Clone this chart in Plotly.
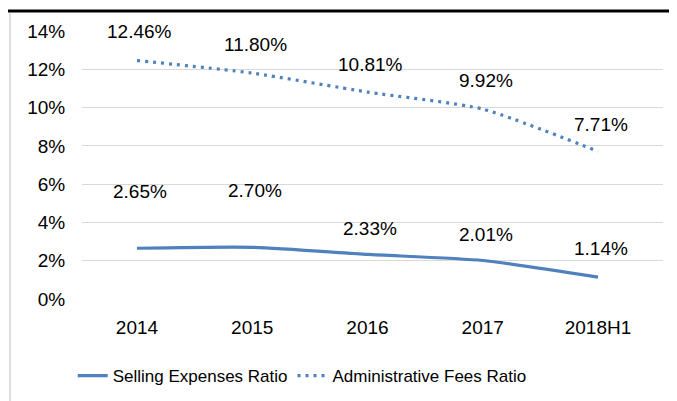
import plotly.graph_objects as go

categories = ["2014", "2015", "2016", "2017", "2018H1"]
selling = [2.65, 2.70, 2.33, 2.01, 1.14]
admin = [12.46, 11.80, 10.81, 9.92, 7.71]
selling_labels = ["2.65%", "2.70%", "2.33%", "2.01%", "1.14%"]
admin_labels = ["12.46%", "11.80%", "10.81%", "9.92%", "7.71%"]
y_ticks = [0, 2, 4, 6, 8, 10, 12, 14]
y_ticktext = ["0%", "2%", "4%", "6%", "8%", "10%", "12%", "14%"]
selling_label_shift = [57, 57, 26, 26, 29]
admin_label_shift = [29, 29, 28, 29, 27]

BLUE = "#4F81BD"
FONT = "Liberation Sans, Arial, sans-serif"
FS = 19
xs = list(range(len(categories)))

W, H = 669, 393
L, R, T, B = 74, 14, 23, 102
PW, PH = W - L - R, H - T - B

fig = go.Figure()
fig.add_trace(go.Scatter(
    x=xs, y=selling, mode="lines", name="Selling Expenses Ratio",
    line=dict(color=BLUE, width=3.2, shape="spline", smoothing=0.6),
))
fig.add_trace(go.Scatter(
    x=xs, y=admin, mode="lines", name="Administrative Fees Ratio",
    line=dict(color=BLUE, width=3.2, dash="3px,5px", shape="spline", smoothing=0.6),
))

annotations = []
for i, (v, t, s) in enumerate(zip(selling, selling_labels, selling_label_shift)):
    annotations.append(dict(x=xs[i], y=v, xref="x", yref="y", text=t, showarrow=False,
                            xshift=3, yshift=s, xanchor="center", yanchor="middle",
                            font=dict(family=FONT, size=FS, color="#000000")))
for i, (v, t, s) in enumerate(zip(admin, admin_labels, admin_label_shift)):
    annotations.append(dict(x=xs[i], y=v, xref="x", yref="y", text=t, showarrow=False,
                            xshift=3, yshift=s, xanchor="center", yanchor="middle",
                            font=dict(family=FONT, size=FS, color="#000000")))

fig.update_layout(
    width=W, height=H,
    margin=dict(l=L, r=R, t=T, b=B, autoexpand=False),
    paper_bgcolor="white", plot_bgcolor="white",
    font=dict(family=FONT, size=FS, color="#000000"),
    showlegend=True,
    legend=dict(orientation="h", x=-0.016, xanchor="left", y=-95/PH, yanchor="bottom",
                font=dict(family=FONT, size=17, color="#000000"),
                itemwidth=30, tracegroupgap=0, bgcolor="rgba(0,0,0,0)"),
    annotations=annotations,
    xaxis=dict(
        range=[-0.477, 4.564], tickvals=xs, ticktext=categories,
        showgrid=False, zeroline=False, showline=False, automargin=False,
        ticks="outside", ticklen=11, tickcolor="rgba(0,0,0,0)",
        tickfont=dict(family=FONT, size=FS),
        fixedrange=True,
    ),
    yaxis=dict(
        range=[0, 14], tickvals=y_ticks, ticktext=y_ticktext,
        showgrid=True, gridcolor="#D9D9D9", gridwidth=1.3,
        zeroline=False, showline=False, automargin=False,
        ticks="outside", ticklen=12, tickcolor="rgba(0,0,0,0)",
        tickfont=dict(family=FONT, size=FS),
        fixedrange=True,
    ),
    shapes=[
        dict(type="line", xref="paper", yref="paper", x0=-L / PW, x1=1 + R / PW,
             y0=1 + (T - 3) / PH, y1=1 + (T - 3) / PH, line=dict(color="#000000", width=3)),
        dict(type="line", xref="paper", yref="paper", x0=-(L - 2) / PW, x1=-(L - 2) / PW,
             y0=1 + (T - 5) / PH, y1=-B / PH, line=dict(color="#D4D4D4", width=1.5)),
    ],
)

fig.write_html("out.html")
